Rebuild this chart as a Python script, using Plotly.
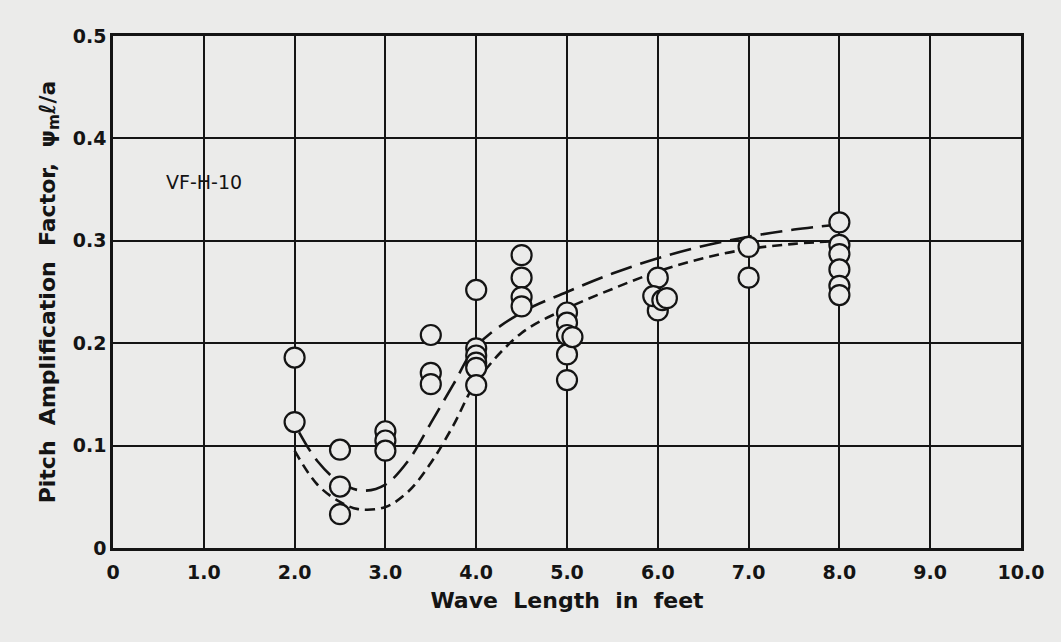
import plotly.graph_objects as go

# Measured points (Wave length in feet, Pitch amplification factor)
pts_x = [2.0, 2.0,
         2.5, 2.5, 2.5,
         3.0, 3.0, 3.0,
         3.5, 3.5, 3.5,
         4.0, 4.0, 4.0, 4.0, 4.0, 4.0,
         4.5, 4.5, 4.5, 4.5,
         5.0, 5.0, 5.0, 5.0, 5.0, 5.06,
         6.0, 6.0, 5.95, 6.05, 6.1,
         7.0, 7.0,
         8.0, 8.0, 8.0, 8.0, 8.0, 8.0]
pts_y = [0.186, 0.123,
         0.096, 0.060, 0.033,
         0.114, 0.105, 0.095,
         0.208, 0.171, 0.160,
         0.252, 0.195, 0.188, 0.181, 0.176, 0.159,
         0.286, 0.264, 0.245, 0.236,
         0.230, 0.220, 0.208, 0.189, 0.164, 0.206,
         0.264, 0.232, 0.246, 0.242, 0.244,
         0.294, 0.264,
         0.318, 0.296, 0.287, 0.272, 0.256, 0.247]

# Long-dash faired curve
long_x = [2.05, 2.25, 2.5, 2.75, 3.0, 3.25, 3.5, 3.75, 4.0, 4.5, 5.0, 5.5, 6.0, 6.5, 7.0, 7.5, 8.0]
long_y = [0.113, 0.085, 0.064, 0.056, 0.062, 0.085, 0.122, 0.160, 0.197, 0.230, 0.250, 0.268, 0.283, 0.295, 0.304, 0.311, 0.316]

# Short-dash faired curve
short_x = [2.0, 2.25, 2.5, 2.7, 3.0, 3.25, 3.5, 3.75, 4.0, 4.5, 5.0, 5.5, 6.0, 6.5, 7.0, 7.5, 8.0]
short_y = [0.095, 0.062, 0.045, 0.038, 0.040, 0.055, 0.083, 0.120, 0.162, 0.210, 0.234, 0.253, 0.270, 0.283, 0.292, 0.297, 0.300]

x_ticks = [0, 1, 2, 3, 4, 5, 6, 7, 8, 9, 10]
x_tick_labels = ["0", "1.0", "2.0", "3.0", "4.0", "5.0", "6.0", "7.0", "8.0", "9.0", "10.0"]
y_ticks = [0, 0.1, 0.2, 0.3, 0.4, 0.5]
y_tick_labels = ["0", "0.1", "0.2", "0.3", "0.4", "0.5"]

BG = "#ebebea"
INK = "#141414"
FONT = "DejaVu Sans, Arial, sans-serif"

fig = go.Figure()

fig.add_trace(go.Scatter(
    x=long_x, y=long_y, mode="lines", line_shape="spline",
    line=dict(color=INK, width=2.6, dash="22px,9px"),
    showlegend=False, hoverinfo="skip"))

fig.add_trace(go.Scatter(
    x=short_x, y=short_y, mode="lines", line_shape="spline",
    line=dict(color=INK, width=2.6, dash="10px,6px"),
    showlegend=False, hoverinfo="skip"))

fig.add_trace(go.Scatter(
    x=pts_x, y=pts_y, mode="markers",
    marker=dict(symbol="circle", size=20, color=BG,
                line=dict(color=INK, width=2.2)),
    showlegend=False))

fig.add_annotation(x=1.0, y=0.357, text="VF-H-10", showarrow=False,
                   font=dict(family=FONT, size=19, color=INK))

fig.update_layout(
    width=1061, height=642,
    margin=dict(l=113, r=40, t=36, b=94),
    paper_bgcolor=BG, plot_bgcolor=BG,
    font=dict(family=FONT, color=INK),
    xaxis=dict(range=[0, 10], tickvals=x_ticks,
               ticktext=["<b>" + t + "</b>" for t in x_tick_labels],
               showgrid=True, gridcolor=INK, gridwidth=2,
               showline=True, linecolor=INK, linewidth=2.5, mirror=True,
               zeroline=False, ticks="outside", ticklen=5, tickcolor=BG,
               tickfont=dict(size=19, family=FONT, color=INK),
               title=dict(text="<b>Wave  Length  in  feet</b>",
                          font=dict(size=22, family=FONT, color=INK), standoff=12)),
    yaxis=dict(range=[0, 0.5], tickvals=y_ticks,
               ticktext=["<b>" + t + "</b>" for t in y_tick_labels],
               showgrid=True, gridcolor=INK, gridwidth=2,
               showline=True, linecolor=INK, linewidth=2.5, mirror=True,
               zeroline=False, ticks="",
               tickfont=dict(size=19, family=FONT, color=INK),
               title=dict(text="<b>Pitch  Amplification  Factor,  ψ<sub>m</sub>ℓ/a</b>",
                          font=dict(size=22, family=FONT, color=INK), standoff=12)),
)

fig.write_html("out.html")
